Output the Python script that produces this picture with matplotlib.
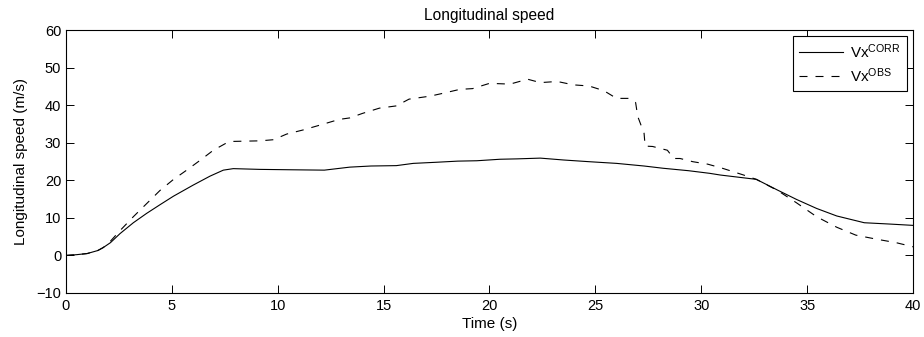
import matplotlib
matplotlib.use("Agg")
import matplotlib.pyplot as plt

plt.rcParams['font.family'] = ['Liberation Sans', 'DejaVu Sans']
plt.rcParams['mathtext.fontset'] = 'custom'
plt.rcParams['mathtext.rm'] = 'Liberation Sans'
plt.rcParams['mathtext.it'] = 'Liberation Sans'

# Vx CORR (solid)
t_corr = [0, 0.5, 1.0, 1.5, 1.76, 2.1, 2.55, 3.18, 3.81, 4.44, 5.07, 6.0, 6.8, 7.43, 7.9, 9.17, 10.6, 12.2,
          13.4, 14.4, 15.6, 16.4, 17.5, 18.5, 19.4, 20.5, 21.3, 22.4, 23.5, 24.7, 26.0,
          27.3, 28.2, 29.4, 30.4, 30.9, 32.6, 33.6, 34.5, 35.45, 36.4, 37.7, 38.9, 40.0]
v_corr = [0, 0.2, 0.5, 1.3, 2.1, 3.4, 5.8, 8.7, 11.2, 13.5, 15.75, 18.7, 21.1, 22.7, 23.1, 22.9, 22.8, 22.7,
          23.5, 23.8, 23.9, 24.5, 24.8, 25.1, 25.2, 25.6, 25.7, 25.9, 25.4, 24.95, 24.5,
          23.8, 23.2, 22.55, 21.85, 21.4, 20.25, 17.4, 14.9, 12.5, 10.5, 8.7, 8.35, 8.0]

# Vx OBS (dashed)
t_obs = [0, 0.5, 1.0, 1.5, 1.76, 2.1, 2.55, 3.18, 3.81, 4.44, 5.07, 5.7, 6.33, 6.96, 7.6, 7.9, 9.17,
         9.8, 10.42, 11.2, 12.0, 12.9, 13.4, 14.0, 14.8, 15.6, 16.2, 17.2, 17.8, 18.6,
         19.2, 20.0, 20.97, 21.8, 22.4, 23.2, 23.96, 24.7, 25.4, 26.0, 26.6, 26.9, 27.0,
         27.3, 27.35, 27.7, 28.4, 28.7, 29.0, 29.6, 30.3, 31.0, 32.0, 32.6, 33.6, 34.5,
         35.45, 36.4, 37.3, 38.3, 39.2, 40.0]
v_obs = [0, 0.2, 0.5, 1.3, 2.1, 3.8, 6.6, 10.3, 13.8, 17.3, 20.2, 22.7, 25.3, 28.0, 30.0, 30.35, 30.5,
         30.8, 32.3, 33.4, 34.7, 36.2, 36.6, 37.8, 39.2, 39.8, 41.6, 42.4, 43.15, 44.2,
         44.4, 45.8, 45.6, 46.9, 46.0, 46.3, 45.4, 45.1, 43.85, 41.8, 41.8, 40.7, 37.0,
         32.5, 29.1, 29.0, 28.0, 25.8, 25.8, 24.95, 24.3, 23.2, 21.4, 20.25, 17.3, 14.0,
         10.3, 7.5, 5.4, 4.3, 3.4, 2.3]

x_ticks = [0, 5, 10, 15, 20, 25, 30, 35, 40]
y_ticks = [-10, 0, 10, 20, 30, 40, 50, 60]

fig = plt.figure(figsize=(9.24, 3.37), dpi=100)
ax = fig.add_axes([66/924, 44/337, 847/924, 263/337])

lw = 0.8
ax.plot(t_corr, v_corr, color='black', lw=lw, label='Vx$^{\\mathrm{CORR}}$')
ax.plot(t_obs, v_obs, color='black', lw=lw, linestyle=(0, (7.2, 7.2)),
        label='Vx$^{\\mathrm{OBS}}$')

ax.set_xlim(0, 40)
ax.set_ylim(-10, 60)
ax.set_xticks(x_ticks)
ax.set_yticks(y_ticks)
ax.set_yticklabels(['\u221210' if v < 0 else str(v) for v in y_ticks])
ax.tick_params(direction='in', top=True, right=True, length=5.8, width=0.7, labelsize=10.5)
ax.tick_params(axis='x', pad=4.5)
ax.tick_params(axis='y', pad=3.5)
for s in ax.spines.values():
    s.set_linewidth(0.8)

ax.set_xlabel('Time (s)', fontsize=11, labelpad=3)
ax.set_ylabel('Longitudinal speed (m/s)', fontsize=11, labelpad=6)
ax.set_title('Longitudinal speed', fontsize=11.2, pad=7)

leg = ax.legend(loc='upper right', fontsize=11, frameon=True, fancybox=False,
                edgecolor='black', framealpha=1, handlelength=2.9, borderpad=0.4,
                labelspacing=0.35, handletextpad=0.45, borderaxespad=0.4)
leg.get_frame().set_linewidth(0.8)

fig.savefig('out.png', dpi=100)
